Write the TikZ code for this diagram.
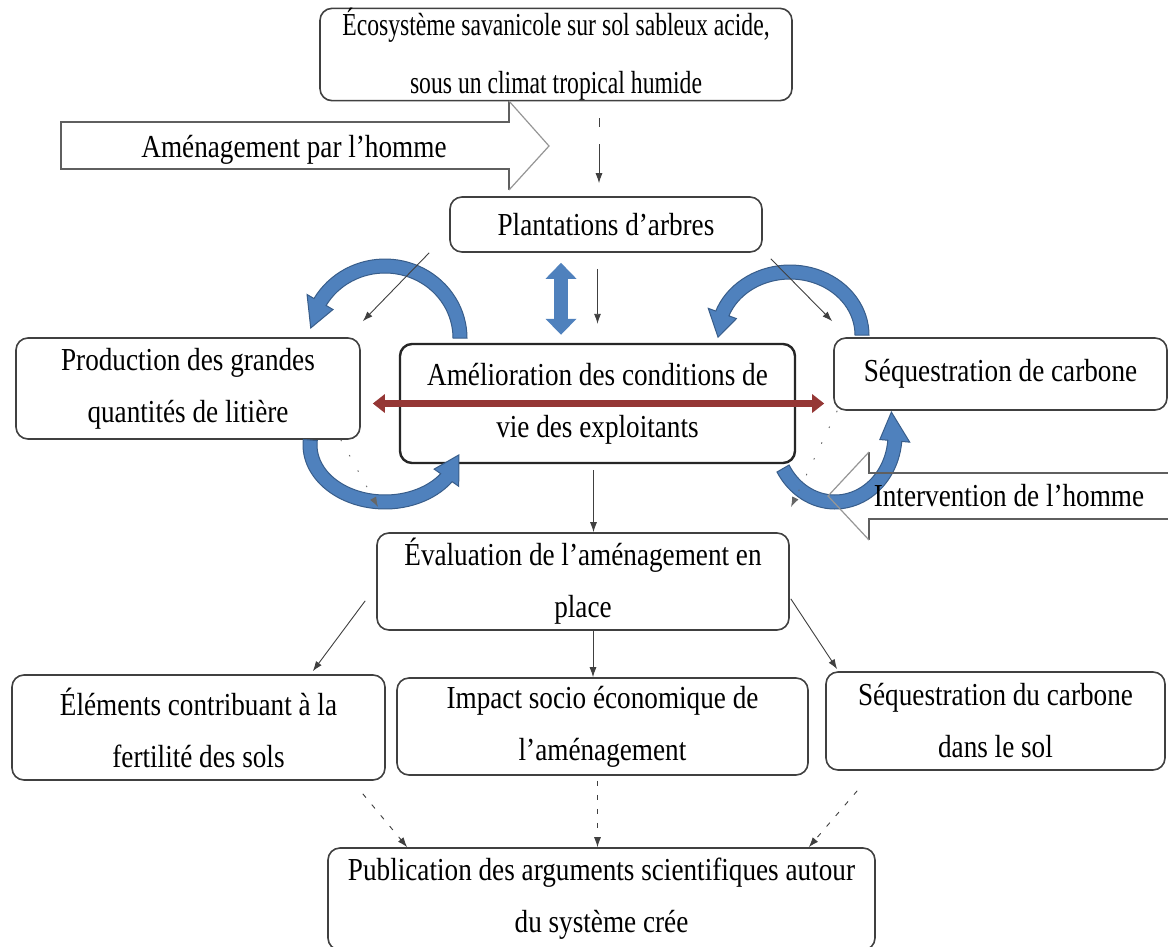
\documentclass[tikz,border=0pt]{standalone}
\usepackage{fontspec}
\setmainfont{Liberation Serif}[FakeStretch=0.85]
\newfontfamily\condensed{Liberation Serif}[FakeStretch=0.74]
\usetikzlibrary{arrows.meta}
\definecolor{box line}{RGB}{64,64,64}
\definecolor{arc fill}{RGB}{79,129,189}
\definecolor{arc line}{RGB}{56,93,138}
\definecolor{link color}{RGB}{149,55,53}
\definecolor{hollow line}{RGB}{95,95,95}
\definecolor{hollow head}{RGB}{150,150,150}

\begin{document}
\begin{tikzpicture}[
	x=1pt, y=-1pt,
	font=\fontsize{32}{52}\selectfont,
	box/.style={draw=box line, line width=1.6pt, rounded corners=12pt, align=center, inner sep=0pt},
	thinarrow/.style={draw=black!75, line width=0.9pt, -{Latex[length=10pt,width=7pt]}},
	dotarrow/.style={thinarrow, dash pattern=on 5pt off 9pt},
	faintarrow/.style={thinarrow, draw=black!60, dash pattern=on 1.5pt off 16pt},
	hollow/.style={draw=hollow line, line width=1.5pt},
	hollowhead/.style={draw=hollow head, line width=1.2pt},
	bluebend/.style={fill=arc fill, draw=arc line, line width=1pt},
	bluebar/.style={draw=arc fill, line width=14pt, {Triangle[width=30pt,length=16pt]}-{Triangle[width=30pt,length=16pt]}},
	redbar/.style={draw=link color, line width=7pt, {Triangle[width=18pt,length=12pt]}-{Triangle[width=18pt,length=12pt]}}]

\fill [white] (0,0) rectangle (1168,946);
\useasboundingbox (0,0) rectangle (1168,946);

% Boxes
\node (eco) at (556,54.5) [box, minimum width=472pt, minimum height=91pt, font=\condensed\fontsize{32}{58}\selectfont]
    {Écosystème savanicole sur sol sableux acide,\\sous un climat tropical humide};
\node (plant) at (606,224.5) [box, minimum width=312pt, minimum height=55pt] {Plantations d'arbres};
\node (prod) at (188,388.5) [box, minimum width=344pt, minimum height=101pt] {Production des grandes\\quantités de litière};
\node (amel) at (597.5,403.5) [box, draw=black!85, line width=2.4pt, minimum width=395pt, minimum height=119pt]
    {Amélioration des conditions de\\vie des exploitants};
\node (seq) at (1000.5,374) [box, minimum width=333pt, minimum height=72pt] {Séquestration de carbone};
\node (eval) at (583,581.5) [box, minimum width=412pt, minimum height=97pt] {Évaluation de l'aménagement en\\place};
\node (elem) at (198.5,727.5) [box, minimum width=373pt, minimum height=105pt] {Éléments contribuant à la\\fertilité des sols};
\node (impact) at (602.5,726.5) [box, minimum width=411pt, minimum height=97pt] {Impact socio économique de\\l'aménagement};
\node (seqsol) at (995.5,721) [box, minimum width=339pt, minimum height=98pt] {Séquestration du carbone\\dans le sol};
\node (pub) at (601.5,899) [box, minimum width=547pt, minimum height=102pt] {Publication des arguments scientifiques autour\\du système crée};

% Curved blue arrows
\foreach \cx/\cy/\rx/\ry/\sa/\ea/\ta in {385/338/75/72/0/-150/-172, 790/335/72/63/0/-160/-182,
        385/445/75/57/185/35/10, 835/435/60/67/150/5/-20} {
    \begin{scope}[shift={(\cx,\cy)}]
    \filldraw [bluebend] plot [domain=\sa:\ea, samples=40] (\x:{\rx+7} and {\ry+7})
        -- (\ea:{\rx+15} and {\ry+15}) -- (\ta:{\rx} and {\ry}) -- (\ea:{\rx-15} and {\ry-15})
        -- plot [domain=\ea:\sa, samples=40] (\x:{\rx-7} and {\ry-7}) -- cycle;
    \end{scope}
}

% Hollow arrows
\draw [hollow] (509,101) -- (509,122) -- (61,122) -- (61,169) -- (509,169) -- (509,190);
\draw [hollowhead] (509,101) -- (549,146) -- (509,190);
\node (amenag) at (294,150) {Aménagement par l'homme};
\draw [hollow] (1175,473) -- (869,473) -- (869,452);
\draw [hollow] (1175,519) -- (869,519) -- (869,540);
\draw [hollowhead] (869,452) -- (828,496) -- (869,540);
\node (interv) at (1009,496) {Intervention de l'homme};

% Thin arrows
\draw [thinarrow, dash pattern=on 9pt off 17pt on 80pt off 1pt, shorten <=17pt, shorten >=13pt]
    ([xshift=-7pt]plant.north |- eco.south) -- ([xshift=-7pt]plant.north);
\draw [thinarrow] ([xshift=-20pt]plant.south west) -- ([xshift=2pt,yshift=16pt]prod.north east);
\draw [thinarrow, shorten <=16pt, shorten >=19pt] (plant.south -| amel.north) -- (amel.north);
\draw [thinarrow] ([xshift=8pt,yshift=-6pt]plant.south east) -- ([xshift=-1pt,yshift=16pt]seq.north west);
\draw [thinarrow, shorten <=6pt] ([xshift=-4pt]amel.south) -- ([xshift=-4pt]amel.south |- eval.north);
\draw [thinarrow] ([xshift=-11pt,yshift=30pt]eval.south west) -- ([xshift=-73pt,yshift=3pt]elem.north east);
\draw [thinarrow] ([xshift=10pt]eval.south) -- ([xshift=10pt]eval.south |- impact.north);
\draw [thinarrow] ([xshift=1pt,yshift=32pt]eval.south east) -- ([xshift=12pt,yshift=2pt]seqsol.north west);

% Faint dotted arrows
\coordinate (lefttip) at (378,507);
\coordinate (righttip) at (791,507);
\draw [faintarrow] ([xshift=-20pt]prod.south east) -- (lefttip);
\draw [faintarrow] ([xshift=4pt]seq.south west) -- (righttip);

% Dotted arrows to the publication
\draw [dotarrow] ([xshift=-23pt,yshift=-13pt]elem.south east) -- ([xshift=80pt]pub.north west);
\draw [dotarrow, shorten <=5pt] ([xshift=-5pt]impact.south) -- ([xshift=-5pt]impact.south |- pub.north);
\draw [dotarrow] ([xshift=32pt,yshift=-20pt]seqsol.south west) -- ([xshift=-67pt]pub.north east);

% Double arrows
\draw [bluebar] ([xshift=-45pt,yshift=-10pt]plant.south) -- ([xshift=-36.5pt,yshift=8pt]amel.north);
\draw [redbar] ([xshift=12pt]prod.east |- amel.center) -- ([xshift=-9pt]seq.west |- amel.center);

\end{tikzpicture}
\end{document}
